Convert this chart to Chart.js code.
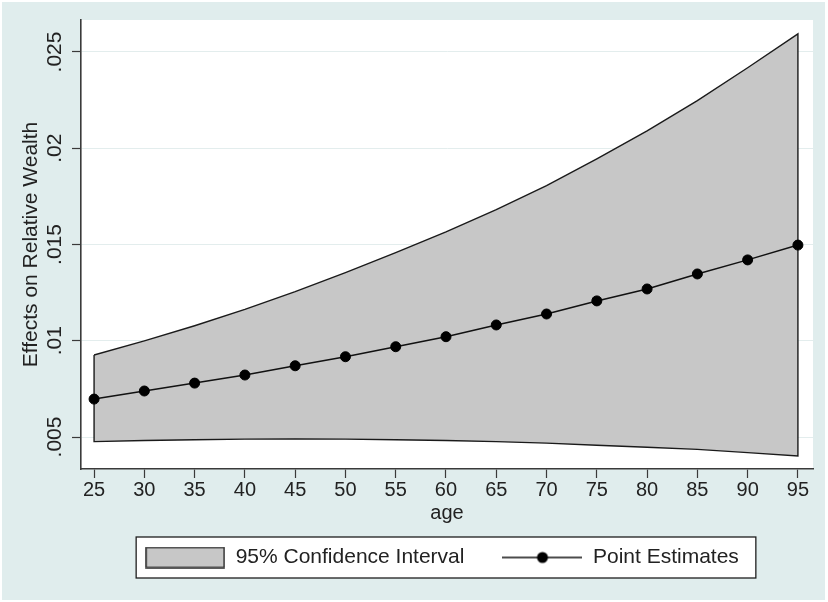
<!DOCTYPE html>
<html>
<head>
<meta charset="utf-8">
<script src="https://cdn.jsdelivr.net/npm/chart.js@4/dist/chart.umd.min.js"></script>
<style>
  html, body { margin: 0; padding: 0; background: #ffffff; }
  canvas { display: block; }
</style>
</head>
<body>
<canvas id="chart" width="828" height="602"></canvas>
<script>
// Age grid and estimates
const ages = [25, 30, 35, 40, 45, 50, 55, 60, 65, 70, 75, 80, 85, 90, 95];
const pointEstimates = [0.00697, 0.00739, 0.00780, 0.00822, 0.00870, 0.00917, 0.00969, 0.01021,
                        0.01082, 0.01139, 0.01207, 0.01269, 0.01347, 0.01420, 0.01497];
const ciUpper = [0.00926, 0.00999, 0.01078, 0.01163, 0.01255, 0.01354, 0.01458, 0.01566,
                 0.01681, 0.01806, 0.01945, 0.02090, 0.02247, 0.02418, 0.02594];
const ciLower = [0.00476, 0.00482, 0.00486, 0.00489, 0.00490, 0.00489, 0.00486, 0.00482,
                 0.00476, 0.00468, 0.00457, 0.00447, 0.00436, 0.00419, 0.00401];

// Axis ticks
const xTickValues = [25, 30, 35, 40, 45, 50, 55, 60, 65, 70, 75, 80, 85, 90, 95];
const yTickValues = [0.005, 0.01, 0.015, 0.02, 0.025];
const yTickLabels = ['.005', '.01', '.015', '.02', '.025'];

const seriesLabels = ['95% Confidence Interval', 'Point Estimates'];
const axisTitles = { x: 'age', y: 'Effects on Relative Wealth' };

const FAMILY = "'Liberation Sans', Arial, Helvetica, sans-serif";
const TEXT = '#222222';
const AXIS = '#3a3a3a';
const PAGE_BG = '#e0eded';
const CI_FILL = '#c7c7c7';

// Closed band outline: upper bound left to right, lower bound back, then close
const upperPts = ages.map((a, i) => ({ x: a, y: ciUpper[i] }));
const lowerPts = ages.map((a, i) => ({ x: a, y: ciLower[i] })).reverse();
const bandPolygon = upperPts.concat(lowerPts, [upperPts[0]]);
const pointData = ages.map((a, i) => ({ x: a, y: pointEstimates[i] }));

// Legend keys
function makeKey(draw) {
  const c = document.createElement('canvas');
  c.width = 80; c.height = 22;
  draw(c.getContext('2d'));
  return c;
}
const bandKey = makeKey(g => {
  g.fillStyle = CI_FILL; g.fillRect(1, 1, 78, 20);
  g.strokeStyle = '#333'; g.lineWidth = 1.6; g.strokeRect(1, 1, 78, 20);
});
const lineKey = makeKey(g => {
  g.strokeStyle = '#111'; g.lineWidth = 1.5;
  g.beginPath(); g.moveTo(0, 11); g.lineTo(80, 11); g.stroke();
  g.fillStyle = '#000'; g.beginPath(); g.arc(40, 11, 5.5, 0, Math.PI * 2); g.fill();
});
const legendKeys = [bandKey, lineKey];

// Page background, white plot region and framed legend
const backdrop = {
  id: 'backdrop',
  beforeDraw(chart) {
    const { ctx, chartArea: a } = chart;
    ctx.save();
    ctx.fillStyle = '#ffffff';
    ctx.fillRect(0, 0, chart.width, chart.height);
    ctx.fillStyle = PAGE_BG;
    ctx.fillRect(2, 2, chart.width - 5, chart.height - 4);
    ctx.fillStyle = '#ffffff';
    ctx.fillRect(a.left, a.top, a.right - a.left, a.bottom - a.top);
    const lg = chart.legend;
    if (lg && lg.legendHitBoxes && lg.legendHitBoxes.length) {
      const hb = lg.legendHitBoxes;
      const last = hb[hb.length - 1];
      const l = hb[0].left - 9;
      const r = last.left + last.width + 17;
      const cy = hb[0].top + hb[0].height / 2;
      ctx.fillStyle = '#ffffff';
      ctx.fillRect(l, cy - 20.5, r - l, 41);
      ctx.strokeStyle = '#1e1e1e';
      ctx.lineWidth = 1.3;
      ctx.strokeRect(l, cy - 20.5, r - l, 41);
    }
    ctx.restore();
  }
};

// Nudge the legend row slightly left inside its box
const legendNudge = {
  id: 'legendNudge',
  afterLayout(chart) {
    const lg = chart.legend;
    if (lg) { lg.left -= 5; lg.right -= 5; }
  }
};

const font20 = { family: FAMILY, size: 20 };
const font21 = { family: FAMILY, size: 21 };

new Chart(document.getElementById('chart'), {
  type: 'line',
  data: {
    datasets: [
      {
        label: seriesLabels[0],
        data: bandPolygon,
        fill: 'shape',
        backgroundColor: CI_FILL,
        borderColor: '#1a1a1a',
        borderWidth: 1.4,
        pointRadius: 0,
        pointHitRadius: 0,
        tension: 0,
        order: 2
      },
      {
        label: seriesLabels[1],
        data: pointData,
        fill: false,
        borderColor: '#111111',
        borderWidth: 1.5,
        pointStyle: 'circle',
        pointRadius: 5,
        pointBorderWidth: 1,
        pointBackgroundColor: '#000000',
        pointBorderColor: '#000000',
        tension: 0,
        order: 1
      }
    ]
  },
  options: {
    responsive: false,
    devicePixelRatio: 1,
    animation: false,
    events: [],
    layout: { padding: { left: 0, right: 15, top: 20, bottom: 24 } },
    plugins: {
      tooltip: { enabled: false },
      legend: {
        position: 'bottom',
        fullSize: false,
        labels: {
          usePointStyle: true,
          pointStyleWidth: 80,
          boxHeight: 21,
          padding: 38,
          color: TEXT,
          font: font21,
          sort: (a, b) => a.datasetIndex - b.datasetIndex,
          generateLabels(chart) {
            const items = Chart.defaults.plugins.legend.labels.generateLabels(chart);
            items.forEach(it => { it.pointStyle = legendKeys[it.datasetIndex]; });
            return items;
          }
        }
      }
    },
    scales: {
      x: {
        type: 'linear',
        min: 23.7,
        max: 96.5,
        afterBuildTicks: s => { s.ticks = xTickValues.map(v => ({ value: v })); },
        afterFit: s => { s.height = 40; },
        ticks: {
          autoSkip: false, maxRotation: 0, minRotation: 0,
          padding: 0, color: TEXT, font: font20,
          callback: v => String(v)
        },
        grid: {
          drawOnChartArea: false, drawTicks: true,
          tickLength: 9, tickColor: AXIS, tickWidth: 1.2
        },
        border: { display: true, color: AXIS, width: 1.6 },
        title: {
          display: true, text: axisTitles.x, color: TEXT, font: font20,
          padding: { top: 0, bottom: -16 }
        }
      },
      y: {
        type: 'linear',
        min: 0.003338,
        max: 0.026662,
        afterBuildTicks: s => { s.ticks = yTickValues.map(v => ({ value: v })); },
        afterFit: s => { s.width = 81; },
        ticks: {
          minRotation: 90, maxRotation: 90, crossAlign: 'center',
          padding: -3.4, color: TEXT, font: font21,
          callback: v => yTickLabels[yTickValues.indexOf(v)]
        },
        grid: {
          color: '#e3eded', lineWidth: 1,
          tickLength: 9, tickColor: AXIS, tickWidth: 1.2
        },
        border: { display: true, color: AXIS, width: 1.6 },
        title: {
          display: true, text: axisTitles.y, color: TEXT, font: font21,
          padding: { top: 18.4, bottom: 0 }
        }
      }
    }
  },
  plugins: [backdrop, legendNudge]
});
</script>
</body>
</html>
